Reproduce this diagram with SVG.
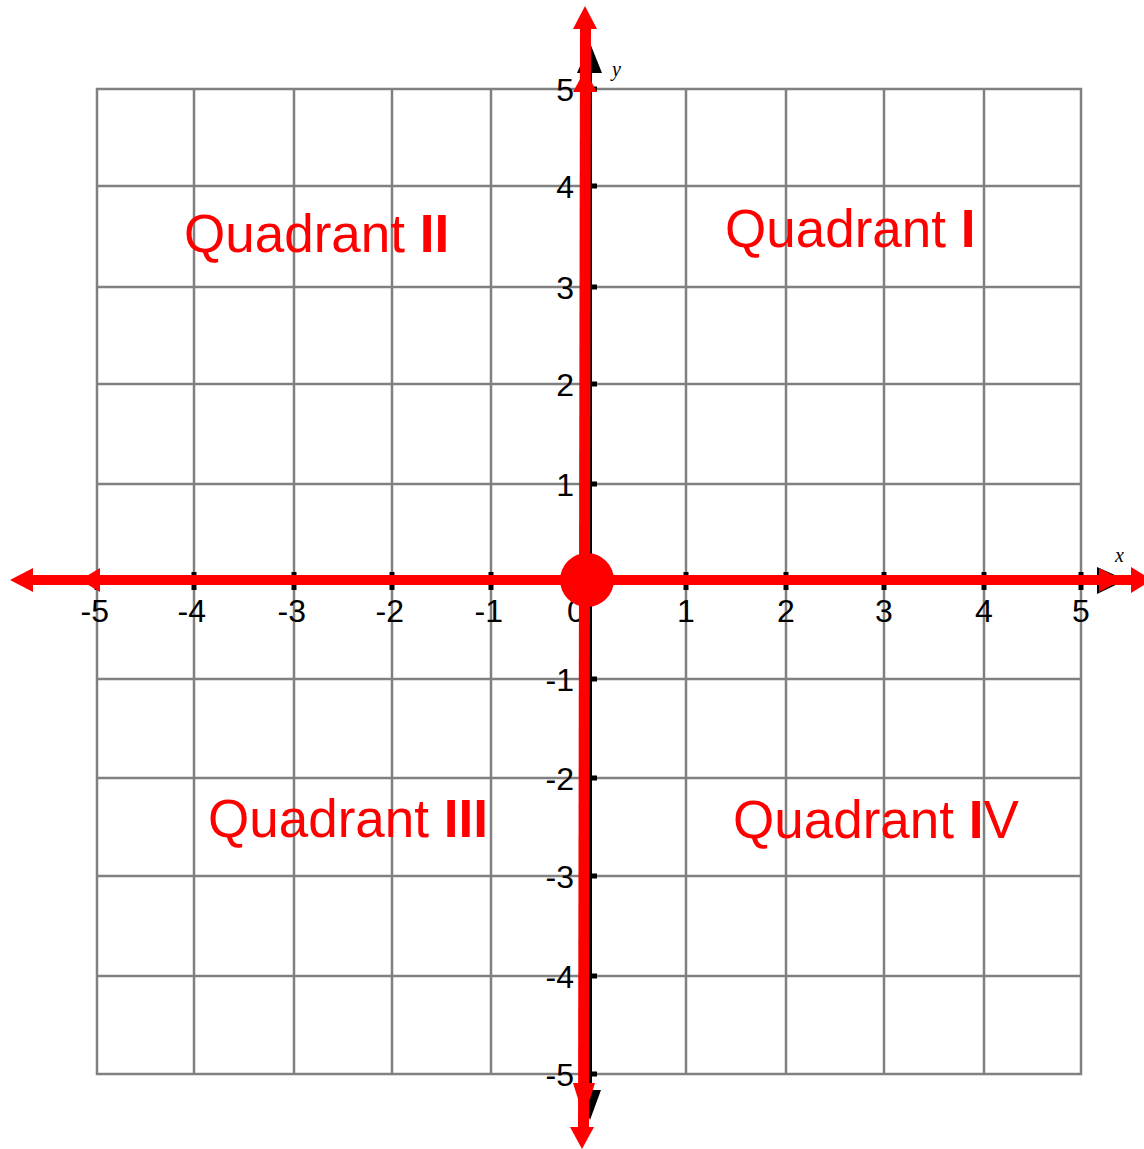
<svg xmlns="http://www.w3.org/2000/svg" width="1144" height="1149" viewBox="0 0 1144 1149">
<style>
.grid{stroke:#808080;stroke-width:2.5;fill:none}
.tick{fill:#000}
.lbl{font-family:"Liberation Sans",Arial,sans-serif;font-size:32px;fill:#000}
.q{font-family:"Liberation Sans",Arial,sans-serif;font-size:53px;fill:#ff0000}
.b{font-weight:bold}
.ax{font-family:"Liberation Serif","Times New Roman",serif;font-style:italic;font-size:20px;fill:#000}
.red{fill:#ff0000}
</style>
<rect width="1144" height="1149" fill="#fff"/>
<g id="grid" class="grid">
<rect x="97" y="89" width="984" height="985"/>
<path d="M194 89V1074M294 89V1074M392 89V1074M491 89V1074M686 89V1074M786 89V1074M884 89V1074M984 89V1074"/>
<path d="M97 186H1081M97 287H1081M97 384H1081M97 484H1081M97 679H1081M97 778H1081M97 876H1081M97 976H1081"/>
</g>
<g id="black-axes">
<rect x="588" y="70" width="4" height="1045" class="tick"/>
<polygon points="590,43 577,73 602,73" class="tick"/>
<polygon points="1097,567 1097,594 1126,580" class="tick"/>
<polygon points="590,1120 579,1090 601,1090" class="tick"/>
<g class="tick">
<rect x="94.5" y="572" width="5" height="18"/><rect x="191.5" y="572" width="5" height="18"/><rect x="291.5" y="572" width="5" height="18"/><rect x="389.5" y="572" width="5" height="18"/><rect x="488.5" y="572" width="5" height="18"/><rect x="683.5" y="572" width="5" height="18"/><rect x="783.5" y="572" width="5" height="18"/><rect x="881.5" y="572" width="5" height="18"/><rect x="981.5" y="572" width="5" height="18"/><rect x="1078.5" y="572" width="5" height="18"/>
<rect x="580" y="86.5" width="17" height="5"/><rect x="580" y="183.5" width="17" height="5"/><rect x="580" y="284.5" width="17" height="5"/><rect x="580" y="381.5" width="17" height="5"/><rect x="580" y="481.5" width="17" height="5"/><rect x="580" y="676.5" width="17" height="5"/><rect x="580" y="775.5" width="17" height="5"/><rect x="580" y="873.5" width="17" height="5"/><rect x="580" y="973.5" width="17" height="5"/><rect x="580" y="1071.5" width="17" height="5"/>
</g>
</g>
<g id="x-labels" class="lbl">
<text x="109" y="622" text-anchor="end">-5</text>
<text x="206" y="622" text-anchor="end">-4</text>
<text x="306" y="622" text-anchor="end">-3</text>
<text x="404" y="622" text-anchor="end">-2</text>
<text x="503" y="622" text-anchor="end">-1</text>
<text x="576" y="622" text-anchor="middle">0</text>
<text x="686" y="622" text-anchor="middle">1</text>
<text x="786" y="622" text-anchor="middle">2</text>
<text x="884" y="622" text-anchor="middle">3</text>
<text x="984" y="622" text-anchor="middle">4</text>
<text x="1081" y="622" text-anchor="middle">5</text>
</g>
<g id="y-labels" class="lbl" text-anchor="end">
<text x="574" y="101">5</text>
<text x="574" y="198">4</text>
<text x="574" y="299">3</text>
<text x="574" y="396">2</text>
<text x="574" y="496">1</text>
<text x="574" y="691">-1</text>
<text x="574" y="790">-2</text>
<text x="574" y="888">-3</text>
<text x="574" y="988">-4</text>
<text x="574" y="1086">-5</text>
</g>
<text id="y-name" class="ax" x="612" y="76">y</text>
<text id="x-name" class="ax" x="1115" y="562">x</text>
<g id="connectors">
<rect x="25" y="575" width="1110" height="10" class="red"/>
<polygon class="red" points="580,20 591,20 589,1135 578,1135"/>
<polygon class="red" points="10,580 33,568 33,592"/>
<polygon class="red" points="80,580 100,568 100,592"/>
<polygon class="red" points="1122,580 1099,568 1099,592"/>
<polygon class="red" points="1152,580 1131,567 1131,593"/>
<polygon class="red" points="585,6 573,29 597,29"/>
<polygon class="red" points="585,70 573,92 597,92"/>
<polygon class="red" points="584,1118 573,1083 595,1083"/>
<polygon class="red" points="582,1149 570,1127 594,1127"/>
</g>
<circle id="origin" cx="587" cy="580" r="27" class="red"/>
<g id="quadrant-labels" class="q">
<text id="q1" x="725" y="247">Quadrant <tspan class="b">I</tspan></text>
<text id="q2" x="184" y="252">Quadrant <tspan class="b">II</tspan></text>
<text id="q3" x="208" y="837">Quadrant <tspan class="b">III</tspan></text>
<text id="q4" x="733" y="838">Quadrant <tspan class="b">I</tspan>V</text>
</g>
</svg>
